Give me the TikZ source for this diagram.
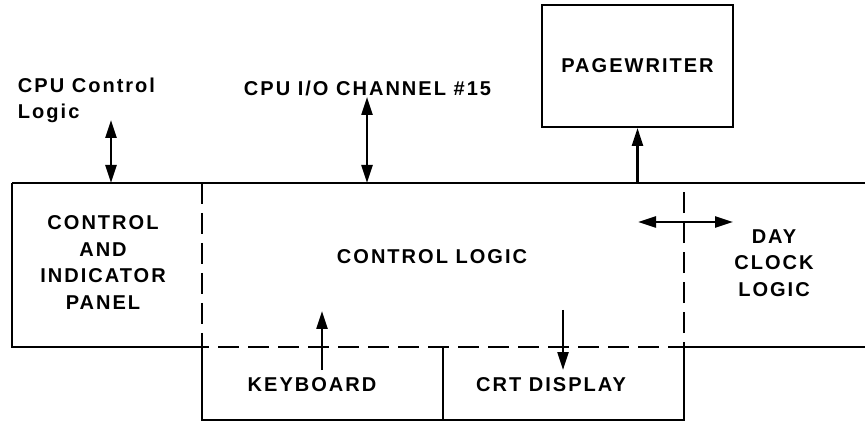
\documentclass[tikz,border=0pt]{standalone}
\usepackage{fontspec}
\setmainfont{Liberation Sans}[LetterSpace=10]
\usetikzlibrary{arrows.meta}

\begin{document}
\begin{tikzpicture}[line width=1.1pt]
            \tikzstyle{lbl}=[font=\fontsize{11.4}{15}\selectfont\bfseries,align=center,inner sep=0pt]
            \tikzstyle{split}=[dash pattern=on 0.42cm off 0.18cm]
            \tikzstyle{flow}=[line width=1.3pt,-{Triangle[length=0.36cm,width=0.22cm]}]
            \tikzstyle{both}=[line width=1.3pt,{Triangle[length=0.36cm,width=0.22cm]}-{Triangle[length=0.36cm,width=0.22cm]}]
            \useasboundingbox (0,0) rectangle (17.30,8.46);
            % outline corners
            \node (tl) at (0.24,4.80) {};
            \node (tr) at (17.30,4.80) {};
            \node (bl) at (0.24,1.52) {};
            \node (br) at (17.30,1.52) {};
            \node (ka) at (4.04,4.80) {};
            \node (kb) at (4.04,1.52) {};
            \node (kc) at (4.04,0.06) {};
            \node (da) at (13.68,4.80) {};
            \node (db) at (13.68,1.52) {};
            \node (dc) at (13.68,0.06) {};
            \node (ma) at (8.86,1.52) {};
            \node (mb) at (8.86,0.06) {};
            \draw (tl.center) -- (tr.center);
            \draw (tl.center) -- (bl.center) -- (kb.center) -- (kc.center) -- (dc.center) -- (db.center) -- (br.center);
            \draw (ma.center) -- (mb.center);
            \draw[split] (ka.center) -- (kb.center) -- (db.center) -- (da.center);
            % labels
            \node[lbl,align=left,anchor=west] (cpu) at (0.34,6.45) {CPU Control\\Logic};
            \node[lbl,anchor=west] (chan) at (4.86,6.70) {CPU I/O CHANNEL \#15};
            \node[lbl,draw,line width=1.1pt,minimum width=3.82cm,minimum height=2.44cm] (pw) at (12.75,7.14) {PAGEWRITER};
            \node[lbl] (panel) at (2.06,3.21) {CONTROL\\AND\\INDICATOR\\PANEL};
            \node[lbl] (logic) at (8.64,3.32) {CONTROL LOGIC};
            \node[lbl] (clock) at (15.48,3.20) {DAY\\CLOCK\\LOGIC};
            \node[lbl] (kbd) at (6.24,0.76) {KEYBOARD};
            \node[lbl] (crt) at (11.02,0.76) {CRT DISPLAY};
            % connectors
            \coordinate (cpuin) at (2.22,4.80);
            \coordinate (cpuout) at (2.22,6.06);
            \coordinate (chanin) at (7.34,4.80);
            \coordinate (chanout) at (7.34,6.52);
            \coordinate (pwin) at (12.75,4.80);
            \coordinate (clkl) at (12.76,4.02);
            \coordinate (clkr) at (14.66,4.02);
            \coordinate (kbdin) at (6.44,1.06);
            \coordinate (kbdout) at (6.44,2.24);
            \coordinate (crtin) at (11.26,2.26);
            \coordinate (crtout) at (11.26,1.06);
            \draw[both] (cpuin) -- (cpuout);
            \draw[both] (chanin) -- (chanout);
            \draw[flow] (pwin) -- (pw.south);
            \draw[both] (clkl) -- (clkr);
            \draw[flow] (kbdin) -- (kbdout);
            \draw[flow] (crtin) -- (crtout);
        \end{tikzpicture}
\end{document}
